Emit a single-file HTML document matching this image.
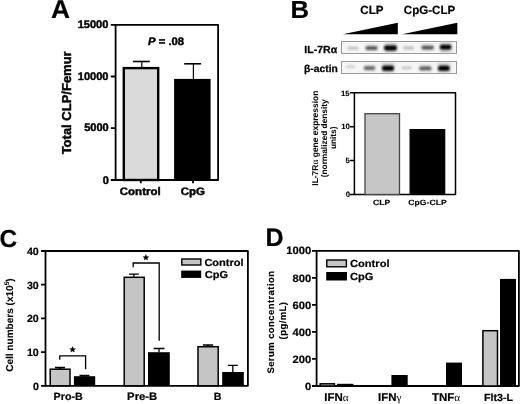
<!DOCTYPE html>
<html><head><meta charset="utf-8">
<style>
html,body{margin:0;padding:0;background:#fff;}
body{width:520px;height:404px;overflow:hidden;}
svg{display:block;will-change:transform;}
text{font-family:"Liberation Sans",sans-serif;font-weight:bold;fill:#000;stroke:#000;stroke-width:0.2px;text-rendering:geometricPrecision;}
.g{font-family:"Liberation Serif",serif;font-weight:normal;stroke-width:0;}
</style></head><body>
<svg width="520" height="404" viewBox="0 0 520 404">
<defs>
<filter id="bl" x="-50%" y="-100%" width="200%" height="300%"><feGaussianBlur stdDeviation="0.8"/></filter>
<filter id="bl2" x="-50%" y="-100%" width="200%" height="300%"><feGaussianBlur stdDeviation="1.8"/></filter>
</defs>

<!-- ============ PANEL A ============ -->
<g stroke="#000" stroke-width="1.8" fill="none" stroke-linejoin="round">
  <path d="M115.6,24.8 H218.1 V180 H115.6 Z"/>
  <path d="M110.8,24.8 H115.6 M110.8,76.5 H115.6 M110.8,128.2 H115.6 M110.8,180 H115.6"/>
  <path d="M140.8,180 V183.2 M193,180 V183.2"/>
</g>
<rect x="123.8" y="68.1" width="34.4" height="111.9" fill="#dadada" stroke="#000" stroke-width="2.4"/>
<rect x="174.1" y="78.9" width="36.5" height="101.1" fill="#000"/>
<g stroke="#000">
  <path d="M141.8,61.5 V67" stroke-width="1.2"/>
  <path d="M132.9,61.5 H149.8" stroke-width="1.6"/>
  <path d="M193.4,63.8 V79" stroke-width="1.2"/>
  <path d="M184.2,63.8 H201.1" stroke-width="1.6"/>
</g>

<!-- ============ PANEL B ============ -->
<polygon points="342.8,34.3 397.8,34.3 397.8,22.8" fill="#000"/>
<polygon points="402,34.3 457.3,34.3 457.3,22.8" fill="#000"/>
<rect x="341.5" y="41.5" width="115" height="12" fill="#f6f6f6" stroke="#999" stroke-width="1"/>
<rect x="341.5" y="61.5" width="115" height="12" fill="#f6f6f6" stroke="#999" stroke-width="1"/>
<g filter="url(#bl2)" fill="#c4c4c4">
  <rect x="384.5" y="43" width="12" height="9.5"/>
  <rect x="440" y="42.5" width="11.5" height="10"/>
  <rect x="382" y="63" width="12" height="9.5"/>
  <rect x="438" y="63" width="12" height="9.5"/>
  <rect x="365.5" y="44.5" width="12" height="6.5" fill="#dcdcdc"/>
  <rect x="421.5" y="44" width="12.5" height="6.5" fill="#dcdcdc"/>
  <rect x="364" y="65" width="11.5" height="6.5" fill="#dcdcdc"/>
  <rect x="419.5" y="65" width="12" height="6.5" fill="#dcdcdc"/>
</g>
<g filter="url(#bl)">
  <rect x="347.5" y="46.8" width="11" height="3" rx="1.5" fill="#c0c0c0"/>
  <rect x="365.5" y="46.2" width="12" height="3.8" rx="1.9" fill="#555"/>
  <rect x="384" y="45.6" width="13" height="4.8" rx="2.4" fill="#000"/>
  <rect x="403.2" y="46.4" width="11" height="3" rx="1.5" fill="#bababa"/>
  <rect x="421.6" y="45.7" width="12.2" height="3.8" rx="1.9" fill="#525252"/>
  <rect x="439.8" y="44.8" width="11.6" height="4.8" rx="2.4" fill="#000"/>
  <rect x="346" y="65.3" width="9" height="2.8" rx="1.4" fill="#d0d0d0"/>
  <rect x="363.8" y="66.3" width="11.4" height="3.6" rx="1.8" fill="#666"/>
  <rect x="382" y="65.7" width="12" height="5" rx="2.5" fill="#000"/>
  <rect x="401.5" y="66.4" width="10.3" height="2.8" rx="1.4" fill="#c4c4c4"/>
  <rect x="419.3" y="66.5" width="12.1" height="3.8" rx="1.9" fill="#5c5c5c"/>
  <rect x="438" y="65.7" width="11.7" height="5" rx="2.5" fill="#000"/>
</g>
<g stroke="#000" stroke-width="1.5" fill="none" stroke-linejoin="round">
  <path d="M354.4,92.8 H455.5 V194.5 H354.4 Z"/>
  <path d="M350,92.8 H354.4 M350,126.7 H354.4 M350,160.6 H354.4 M350,194.5 H354.4"/>
</g>
<rect x="365" y="113.7" width="34.5" height="80.8" fill="#c6c6c6" stroke="#444" stroke-width="1.3"/>
<rect x="409.5" y="129" width="35.8" height="65.5" fill="#000"/>

<!-- ============ PANEL C ============ -->
<g stroke="#000" stroke-width="1.8" fill="none" stroke-linejoin="round">
  <path d="M45.5,251 H247.9 V385.8 H45.5 Z"/>
  <path d="M41,251 H45.5 M41,284.7 H45.5 M41,318.4 H45.5 M41,352.1 H45.5 M41,385.8 H45.5"/>
</g>
<g stroke="#000" stroke-width="1.5">
  <rect x="50.2" y="369.2" width="19.8" height="16.6" fill="#c5c5c5"/>
  <rect x="124.2" y="277.3" width="20" height="108.5" fill="#c5c5c5"/>
  <rect x="198" y="346.7" width="20.2" height="39.1" fill="#c5c5c5"/>
</g>
<rect x="73.9" y="376.2" width="21.3" height="9.6" fill="#000"/>
<rect x="148" y="352.2" width="21.8" height="33.6" fill="#000"/>
<rect x="222.2" y="372" width="21.6" height="13.8" fill="#000"/>
<g stroke="#000" stroke-width="1.3" fill="none">
  <path d="M60,367.6 V369 M54.9,367.6 H65" stroke-width="1.8"/>
  <path d="M84.5,375.6 V377 M79.5,375.6 H89.4" stroke-width="1.6"/>
  <path d="M133.9,274.1 V277 M129,274.1 H138.8"/>
  <path d="M159,348.5 V352.5 M153.6,348.5 H164.5"/>
  <path d="M208,345 V347 M202.9,345 H213.2"/>
  <path d="M232.8,365.3 V372.5 M227.8,365.3 H237.8"/>
  <path d="M59.8,359.8 V355.8 H85.6 V369.2"/>
  <path d="M133.2,267.3 V263 H159.2 V340.8"/>
</g>
<polygon points="72.60,346.55 73.41,348.49 75.50,348.66 73.91,350.02 74.39,352.07 72.60,350.97 70.81,352.07 71.29,350.02 69.70,348.66 71.79,348.49" fill="#000" stroke="#000" stroke-width="0.35" stroke-linejoin="round"/>
<polygon points="145.90,254.55 146.71,256.49 148.80,256.66 147.21,258.02 147.69,260.07 145.90,258.97 144.11,260.07 144.59,258.02 143.00,256.66 145.09,256.49" fill="#000" stroke="#000" stroke-width="0.35" stroke-linejoin="round"/>
<rect x="181.8" y="259" width="19" height="6" fill="#c5c5c5" stroke="#000" stroke-width="1.4"/>
<rect x="181.2" y="270.6" width="20" height="7.3" fill="#000"/>

<!-- ============ PANEL D ============ -->
<g stroke="#000" stroke-width="1.8" fill="none" stroke-linejoin="round">
  <path d="M316.6,250.9 H518.9 V386 H316.6 Z"/>
  <path d="M312,250.9 H316.6 M312,277.9 H316.6 M312,304.9 H316.6 M312,331.9 H316.6 M312,358.9 H316.6 M312,386 H316.6"/>
</g>
<rect x="326.8" y="260" width="19.6" height="6.8" fill="#c5c5c5" stroke="#000" stroke-width="1.4"/>
<rect x="326.2" y="272" width="20.8" height="8.5" fill="#000"/>
<g stroke="#000" stroke-width="1.5">
  <rect x="320.2" y="383.8" width="14.2" height="2.2" fill="#c5c5c5"/>
  <rect x="482.9" y="330.7" width="14.6" height="55.3" fill="#c5c5c5"/>
</g>
<rect x="337" y="383.8" width="16.4" height="2.2" fill="#000"/>
<rect x="391.4" y="375" width="16.3" height="11" fill="#000"/>
<rect x="446" y="362.6" width="16" height="23.4" fill="#000"/>
<rect x="500" y="278.9" width="16" height="107.1" fill="#000"/>

<text transform="translate(51.12,17.65) scale(1.016,1)" font-size="25.87">A</text>
<text transform="translate(77.73,27.95)" font-size="11.00" style="stroke-width:0.45px">15000</text>
<text transform="translate(77.80,79.95)" font-size="11.00" style="stroke-width:0.45px">10000</text>
<text transform="translate(84.20,131.45)" font-size="11.00" style="stroke-width:0.45px">5000</text>
<text transform="translate(102.65,183.50)" font-size="11.00" style="stroke-width:0.45px">0</text>
<text transform="translate(70.97,154.35) rotate(-90) scale(1.007,1)" font-size="12.91" style="stroke-width:0.45px">Total CLP/Femur</text>
<text transform="translate(148.00,44.75) scale(1.031,1)" font-size="10.96" style="stroke-width:0.45px"><tspan font-style="italic">P</tspan> = .08</text>
<text transform="translate(119.75,195.32) scale(1.056,1)" font-size="10.91" style="stroke-width:0.45px">Control</text>
<text transform="translate(180.75,195.32) scale(1.056,1)" font-size="10.91" style="stroke-width:0.45px">CpG</text>
<text transform="translate(290.50,18.00) scale(1.036,1)" font-size="24.72">B</text>
<text transform="translate(360.30,14.37) scale(0.975,1)" font-size="11.86">CLP</text>
<text transform="translate(403.85,14.37) scale(0.975,1)" font-size="11.86">CpG-CLP</text>
<text transform="translate(304.33,52.85) scale(1.025,1)" font-size="10.31" style="stroke-width:0.25px">IL-7Rα</text>
<text transform="translate(304.05,71.65) scale(1.014,1)" font-size="10.19" style="stroke-width:0.25px">β-actin</text>
<text transform="translate(340.93,95.63) scale(1.017,1)" font-size="7.73" style="stroke-width:0.12px">15</text>
<text transform="translate(341.20,129.40) scale(1.017,1)" font-size="7.73" style="stroke-width:0.12px">10</text>
<text transform="translate(345.45,163.35) scale(1.017,1)" font-size="7.73" style="stroke-width:0.12px">5</text>
<text transform="translate(345.70,197.40) scale(1.017,1)" font-size="7.73" style="stroke-width:0.12px">0</text>
<text transform="translate(373.00,205.05) scale(1.140,1)" font-size="7.60" style="stroke-width:0.12px">CLP</text>
<text transform="translate(408.30,205.05) scale(1.140,1)" font-size="7.60" style="stroke-width:0.12px">CpG-CLP</text>
<text transform="translate(317.50,138.20) rotate(-90)" font-size="8.45" text-anchor="middle" style="stroke-width:0.05px">IL-7R<tspan class="g" font-size="9.5">α</tspan> gene expression</text>
<text transform="translate(327.40,138.30) rotate(-90)" font-size="8.30" text-anchor="middle" style="stroke-width:0.05px">(normalized density</text>
<text transform="translate(336.30,137.80) rotate(-90)" font-size="8.30" text-anchor="middle" style="stroke-width:0.05px">units)</text>
<text transform="translate(-0.50,246.88) scale(0.987,1)" font-size="24.70">C</text>
<text transform="translate(26.92,254.65) scale(1.015,1)" font-size="10.49">40</text>
<text transform="translate(26.90,288.85) scale(1.015,1)" font-size="10.49">30</text>
<text transform="translate(26.90,322.45) scale(1.015,1)" font-size="10.49">20</text>
<text transform="translate(26.90,356.05) scale(1.015,1)" font-size="10.49">10</text>
<text transform="translate(32.90,389.90) scale(1.015,1)" font-size="10.49">0</text>
<text transform="translate(13.20,325.10) rotate(-90)" font-size="10.06" text-anchor="middle" style="stroke-width:0.10px">Cell numbers (x10<tspan font-size="6.5" dy="-4">5</tspan><tspan dy="4">)</tspan></text>
<text transform="translate(204.38,265.68) scale(1.092,1)" font-size="10.15">Control</text>
<text transform="translate(204.80,278.00) scale(1.092,1)" font-size="10.15">CpG</text>
<text transform="translate(53.58,400.20) scale(1.022,1)" font-size="10.49">Pro-B</text>
<text transform="translate(127.08,400.12) scale(1.051,1)" font-size="10.77">Pre-B</text>
<text transform="translate(213.70,400.37) scale(1.028,1)" font-size="10.44">B</text>
<text transform="translate(265.38,245.95) scale(0.989,1)" font-size="25.31">D</text>
<text transform="translate(286.30,254.43) scale(1.045,1)" font-size="10.76">1000</text>
<text transform="translate(292.50,282.05) scale(1.045,1)" font-size="10.76">800</text>
<text transform="translate(292.50,309.05) scale(1.045,1)" font-size="10.76">600</text>
<text transform="translate(292.50,336.05) scale(1.045,1)" font-size="10.76">400</text>
<text transform="translate(292.50,363.05) scale(1.045,1)" font-size="10.76">200</text>
<text transform="translate(305.00,390.10) scale(1.045,1)" font-size="10.76">0</text>
<text transform="translate(274.20,322.10) rotate(-90)" font-size="9.50" text-anchor="middle" style="stroke-width:0.12px" letter-spacing="0.42">Serum concentration</text>
<text transform="translate(285.80,320.50) rotate(-90)" font-size="9.50" text-anchor="middle" style="stroke-width:0.12px" letter-spacing="0.42">(pg/mL)</text>
<text transform="translate(350.07,267.03) scale(1.085,1)" font-size="10.22">Control</text>
<text transform="translate(349.95,279.70) scale(1.085,1)" font-size="10.22">CpG</text>
<text transform="translate(324.23,400.92) scale(1.013,1)" font-size="11.34">IFN<tspan class="g" font-size="11">α</tspan></text>
<text transform="translate(378.00,400.70) scale(1.013,1)" font-size="11.34">IFN<tspan class="g" font-size="11">γ</tspan></text>
<text transform="translate(432.00,400.70) scale(1.013,1)" font-size="11.34">TNF<tspan class="g" font-size="11">α</tspan></text>
<text transform="translate(483.97,400.55) scale(1.042,1)" font-size="10.26">Flt3-L</text>
</svg>
</body></html>
